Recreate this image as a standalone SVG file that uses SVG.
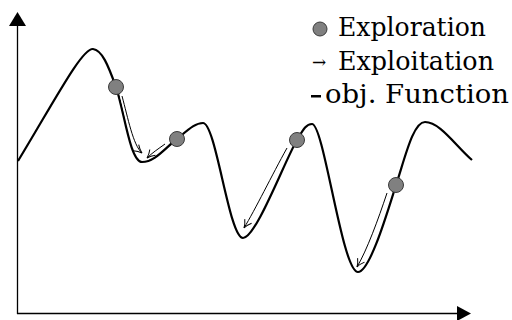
<svg xmlns="http://www.w3.org/2000/svg" width="512" height="320" viewBox="0 0 512 320">
<style>
.axis{stroke:#000;stroke-width:1.3;fill:none}
.curve{stroke:#000;stroke-width:2.2;fill:none;stroke-linejoin:round}
.dot{fill:#808080;stroke:#3a3a3a;stroke-width:1}
.halo{stroke:#fff;stroke-width:4;fill:none}
.arr{stroke:#000;stroke-width:1;fill:none;marker-end:url(#head)}
.lbl{font-family:"DejaVu Serif","Liberation Serif",serif;font-size:26px;fill:#000}
</style>
<defs>
<marker id="head" viewBox="0 0 10 10" refX="9" refY="5" markerWidth="10" markerHeight="10" markerUnits="userSpaceOnUse" orient="auto">
<path d="M1,1 Q5,4 9,5 Q5,6 1,9" fill="none" stroke="#000" stroke-width="1"/>
</marker>
</defs>
<g id="axes">
<line class="axis" x1="17.5" y1="314" x2="17.5" y2="24"/>
<polygon points="17.5,12 9,26 26,26" fill="#000"/>
<line class="axis" x1="17" y1="313.5" x2="458" y2="313.5"/>
<polygon points="471,313.5 457,306 457,321" fill="#000"/>
</g>
<g id="objective">
<path class="curve" d="M18,161 C55,100 82,48 93,49 C102,50 108,65 116,87 C124,110 130,162 142,162 C155,162 165,148 177,139 C188,130 195,123 203,123 C216,123 229,238 243,238 C256,238 285,160 297,140 C303,130 306,124 312,124 C324,124 342,272 358,272 C370,272 388,210 396,185 C405,158 413,122 425,122 C440,122 455,145 472,160"/>
</g>
<g id="connectors">
<path class="halo" d="M122,96 C128,118 133,145 142,153"/>
<path class="arr" d="M122,96 C128,118 133,145 142,153"/>
<path class="halo" d="M165,144 C158,149 152,153 147,158"/>
<path class="arr" d="M165,144 C158,149 152,153 147,158"/>
<path class="halo" d="M287,148 C272,175 255,210 244,228"/>
<path class="arr" d="M287,148 C272,175 255,210 244,228"/>
<path class="halo" d="M387,193 C378,220 367,250 357,267"/>
<path class="arr" d="M387,193 C378,220 367,250 357,267"/>
</g>
<g id="dot1"><circle class="dot" cx="116" cy="87" r="7.5"/></g>
<g id="dot2"><circle class="dot" cx="177" cy="139" r="7.5"/></g>
<g id="dot3"><circle class="dot" cx="297" cy="140" r="7.5"/></g>
<g id="dot4"><circle class="dot" cx="396" cy="185" r="7.5"/></g>
<g id="legend">
<circle class="dot" cx="320" cy="29" r="7"/>
<text class="lbl" x="338" y="36" textLength="148" lengthAdjust="spacingAndGlyphs">Exploration</text>
<text class="lbl" x="312" y="68" style="font-size:17px">→</text>
<text class="lbl" x="338" y="70" textLength="156" lengthAdjust="spacingAndGlyphs">Exploitation</text>
<rect x="311" y="95" width="10" height="2.5" fill="#000"/>
<text class="lbl" x="325" y="103" textLength="184" lengthAdjust="spacingAndGlyphs">obj. Function</text>
</g>
</svg>
